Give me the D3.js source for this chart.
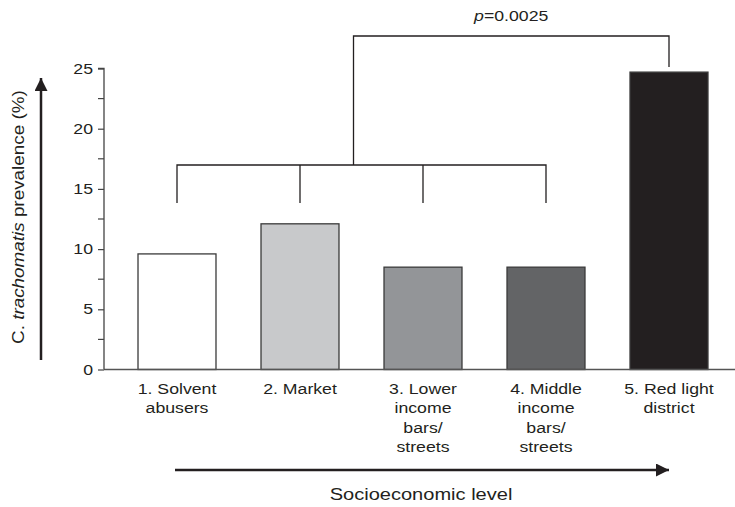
<!DOCTYPE html>
<html>
<head>
<meta charset="utf-8">
<script src="https://cdn.jsdelivr.net/npm/d3@7"></script>
<style>
  html, body { margin: 0; padding: 0; background: #fff; }
  svg { display: block; font-family: "Liberation Sans", Arial, Helvetica, sans-serif; }
</style>
</head>
<body>
<svg id="chart" width="735" height="507"></svg>
<script>
// Site categories (label lines) and C. trachomatis prevalence (%)
const categories = ["1", "2", "3", "4", "5"];
const categoryLabels = [
  ["1. Solvent", "abusers"],
  ["2. Market"],
  ["3. Lower", "income", "bars/", "streets"],
  ["4. Middle", "income", "bars/", "streets"],
  ["5. Red light", "district"]
];
const prevalence = [9.6, 12.1, 8.5, 8.5, 24.7];
const barFills = ["#ffffff", "#c8c9cb", "#939598", "#636466", "#231f20"];
const yTicks = [0, 5, 10, 15, 20, 25];
const yMinorTicks = [2.5, 7.5, 12.5, 17.5, 22.5];
const pLabel = "0.0025";

const svg = d3.select("#chart");
const ink = "#231f20";
const wide = 1.18; // wide-set lettering: glyphs stretched along the baseline

const x = d3.scaleBand()
  .domain(categories)
  .range([115.5, 730.5])
  .paddingInner(0.366)
  .paddingOuter(0.183);

const y = d3.scaleLinear().domain([0, 25]).range([369.5, 68.5]);

const cx = i => x(categories[i]) + x.bandwidth() / 2;

// Arrow marker
svg.append("defs").append("marker")
  .attr("id", "arrowhead")
  .attr("viewBox", "0 0 10 10")
  .attr("refX", 10).attr("refY", 5)
  .attr("markerUnits", "userSpaceOnUse")
  .attr("markerWidth", 13).attr("markerHeight", 13)
  .attr("orient", "auto")
  .append("path")
  .attr("d", "M0,0 L10,5 L0,10 Z")
  .attr("fill", ink);

// Bars
svg.append("g").selectAll("rect")
  .data(prevalence)
  .join("rect")
  .attr("x", (d, i) => x(categories[i]))
  .attr("y", d => y(d))
  .attr("width", x.bandwidth())
  .attr("height", d => y(0) - y(d))
  .attr("fill", (d, i) => barFills[i])
  .attr("stroke", "#3a3a3a")
  .attr("stroke-width", 1.3);

// X baseline
svg.append("line")
  .attr("x1", 104).attr("x2", 735)
  .attr("y1", y(0)).attr("y2", y(0))
  .attr("stroke", "#555").attr("stroke-width", 1.5);

// Y axis
const yAxis = d3.axisLeft(y)
  .tickValues(yTicks)
  .tickSize(6)
  .tickPadding(11)
  .tickFormat(d3.format("d"));
const gy = svg.append("g").attr("transform", "translate(104,0)").call(yAxis);
gy.select(".domain").attr("stroke", "#444").attr("stroke-width", 1.3)
  .attr("d", `M-6,${y(25)}H0V${y(0)}`);
gy.selectAll(".tick line").attr("stroke", "#444").attr("stroke-width", 1.2);
gy.selectAll(".tick text")
  .attr("font-size", 14.5)
  .attr("fill", ink)
  .attr("x", null)
  .attr("transform", `translate(-11,0) scale(${wide + 0.04},1)`)
  .style("font-family", "'Liberation Sans', Arial, sans-serif");
gy.selectAll(".minor")
  .data(yMinorTicks)
  .join("line")
  .attr("class", "minor")
  .attr("x1", -6).attr("x2", 0)
  .attr("y1", d => y(d)).attr("y2", d => y(d))
  .attr("stroke", "#444").attr("stroke-width", 1.2);

// Category labels
const labels = svg.append("g")
  .attr("font-size", 15)
  .attr("fill", ink)
  .attr("text-anchor", "middle");
categoryLabels.forEach((lines, i) => {
  const t = labels.append("text")
    .attr("transform", `translate(${cx(i)},394) scale(${wide},1)`);
  lines.forEach((ln, j) => {
    t.append("tspan").attr("x", 0).attr("dy", j === 0 ? 0 : 19.5).text(ln);
  });
});

// Significance brackets
const br = svg.append("g").attr("fill", "none").attr("stroke", ink).attr("stroke-width", 1.3);
const legBottom = 203, barY = 165, topY = 36;
const joinX = cx(1) + (cx(2) - cx(1)) * 0.435;
br.append("path")
  .attr("d", `M${cx(0)},${legBottom}V${barY}H${cx(3)}V${legBottom}`);
[1, 2].forEach(i => br.append("path").attr("d", `M${cx(i)},${barY}V${legBottom}`));
br.append("path")
  .attr("d", `M${joinX},${barY}V${topY}H${cx(4)}V${y(prevalence[4]) - 5}`);

const pText = svg.append("text")
  .attr("transform", `translate(${(joinX + cx(4)) / 2},21) scale(${wide},1)`)
  .attr("text-anchor", "middle")
  .attr("font-size", 15)
  .attr("fill", ink);
pText.append("tspan").attr("font-style", "italic").text("p");
pText.append("tspan").text("=" + pLabel);

// Socioeconomic arrow and title
svg.append("line")
  .attr("x1", 175).attr("x2", 669)
  .attr("y1", 470).attr("y2", 470)
  .attr("stroke", ink).attr("stroke-width", 2.5)
  .attr("marker-end", "url(#arrowhead)");
svg.append("text")
  .attr("transform", `translate(421,500) scale(${wide},1)`)
  .attr("text-anchor", "middle")
  .attr("font-size", 17)
  .attr("fill", ink)
  .text("Socioeconomic level");

// Prevalence arrow and title (title centred on the arrow's span)
svg.append("line")
  .attr("x1", 41).attr("x2", 41)
  .attr("y1", 360).attr("y2", 78)
  .attr("stroke", ink).attr("stroke-width", 2.5)
  .attr("marker-end", "url(#arrowhead)");
const yt = svg.append("text")
  .attr("text-anchor", "start")
  .attr("font-size", 16)
  .attr("fill", ink);
yt.append("tspan").text("C. ");
yt.append("tspan").attr("font-style", "italic").text("trachomatis");
yt.append("tspan").text(" prevalence (%)");
const ytLen = yt.node().getComputedTextLength() * wide;
yt.attr("transform", `translate(24,${217 + ytLen / 2}) rotate(-90) scale(${wide},1)`);
</script>
</body>
</html>
